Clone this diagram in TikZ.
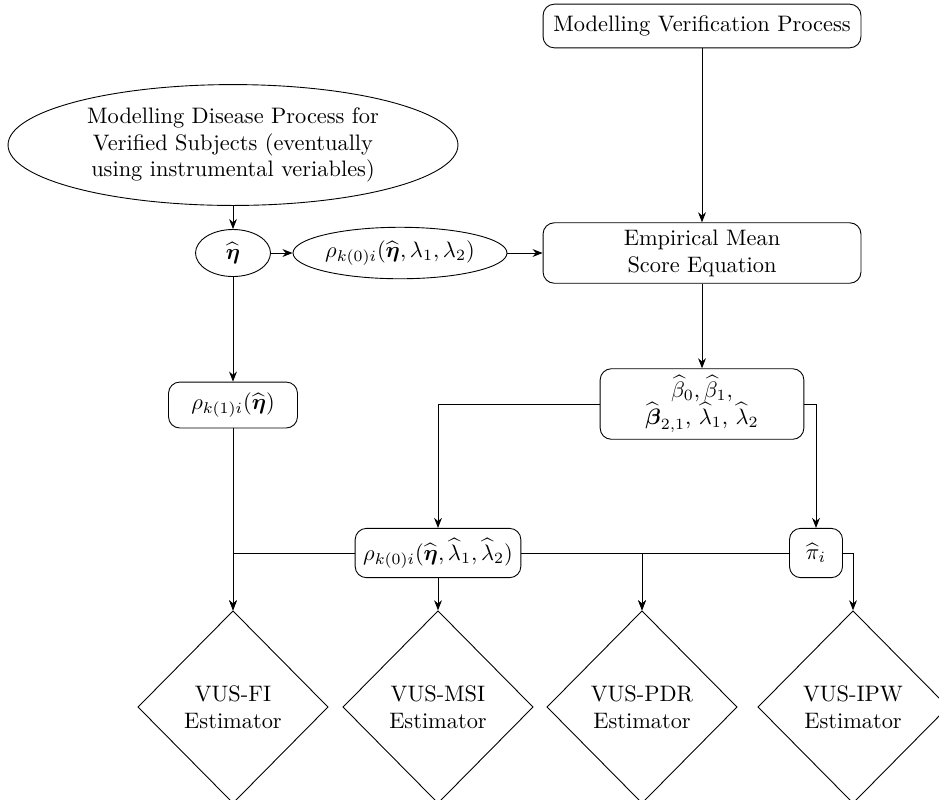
\documentclass[tikz,border=0pt]{standalone}
\usepackage{amsmath}
\usepackage{amssymb}
\usepackage{tikz}
\usetikzlibrary{shapes.geometric, arrows.meta, positioning, calc}

\begin{document}
\begin{tikzpicture}[x=0.0157cm, y=-0.0157cm, >={Stealth[length=4.5pt,width=3.5pt]},
  procbox/.style={draw, rounded corners=5pt, align=center, inner sep=0pt},
  procell/.style={draw, ellipse, align=center, inner sep=0pt},
  estim/.style={draw, diamond, aspect=1, align=center, inner sep=0pt,
    minimum width=85pt, minimum height=86pt}]
\useasboundingbox (0,0) rectangle (939,799);

% Modelling steps
\node[procbox, minimum width=142pt, minimum height=19.5pt] (verif) at (702,26) {Modelling Verification Process};
\node[procell, minimum width=201pt, minimum height=54pt] (disease) at (233,145)
  {Modelling Disease Process for\\ Verified Subjects (eventually\\ using instrumental veriables)};

% First stage estimates
\node[procell, minimum width=33.5pt, minimum height=21pt] (eta) at (233,253) {$\widehat{\boldsymbol{\eta}}$};
\node[procell, minimum width=95.6pt, minimum height=23pt] (rhoell) at (400,253)
  {$\rho_{k(0)i}(\widehat{\boldsymbol{\eta}}, \lambda_1, \lambda_2)$};
\node[procbox, minimum width=142pt, minimum height=27pt] (emp) at (702,253) {Empirical Mean\\ Score Equation};

% Second stage estimates
\node[procbox, minimum width=57.6pt, minimum height=20.5pt] (rhoone) at (233,405) {$\rho_{k(1)i}(\widehat{\boldsymbol{\eta}})$};
\node[procbox, minimum width=91pt, minimum height=31.5pt] (beta) at (702,404)
  {$\widehat{\beta}_0, \widehat{\beta}_1,$\\ $\widehat{\boldsymbol{\beta}}_{2,1}$, $\widehat{\lambda}_1$, $\widehat{\lambda}_2$};
\node[procbox, minimum width=74pt, minimum height=22pt] (rhozero) at (438,553)
  {$\rho_{k(0)i}(\widehat{\boldsymbol{\eta}}, \widehat{\lambda}_1, \widehat{\lambda}_2)$};
\node[procbox, minimum width=23.7pt, minimum height=22pt] (pihat) at (816,553) {$\widehat{\pi}_i$};

% Estimators
\node[estim] (fi) at (233,707) {VUS-FI\\ Estimator};
\node[estim] (msi) at (438,707) {VUS-MSI\\ Estimator};
\node[estim] (pdr) at (642,707) {VUS-PDR\\ Estimator};
\node[estim] (ipw) at (853,707) {VUS-IPW\\ Estimator};

% Connections
\draw[->] (verif) -- (emp);
\draw[->] (disease) -- (eta);
\draw[->] (eta) -- (rhoell);
\draw[->] (rhoell) -- (emp);
\draw[->] (eta) -- (rhoone);
\draw[->] (emp) -- (beta);
\draw[->] (beta.west) -| (rhozero.north);
\draw[->] (beta.east) -| (pihat.north);
\draw[->] (rhoone) -- (fi);
\draw[->] (rhozero.west) -| (fi.north);
\draw[->] (rhozero) -- (msi);
\draw[->] (rhozero.east) -| (pdr.north);
\draw[->] (pihat.west) -| (pdr.north);
\draw[->] (pihat.east) -| (ipw.north);
\end{tikzpicture}
\end{document}
